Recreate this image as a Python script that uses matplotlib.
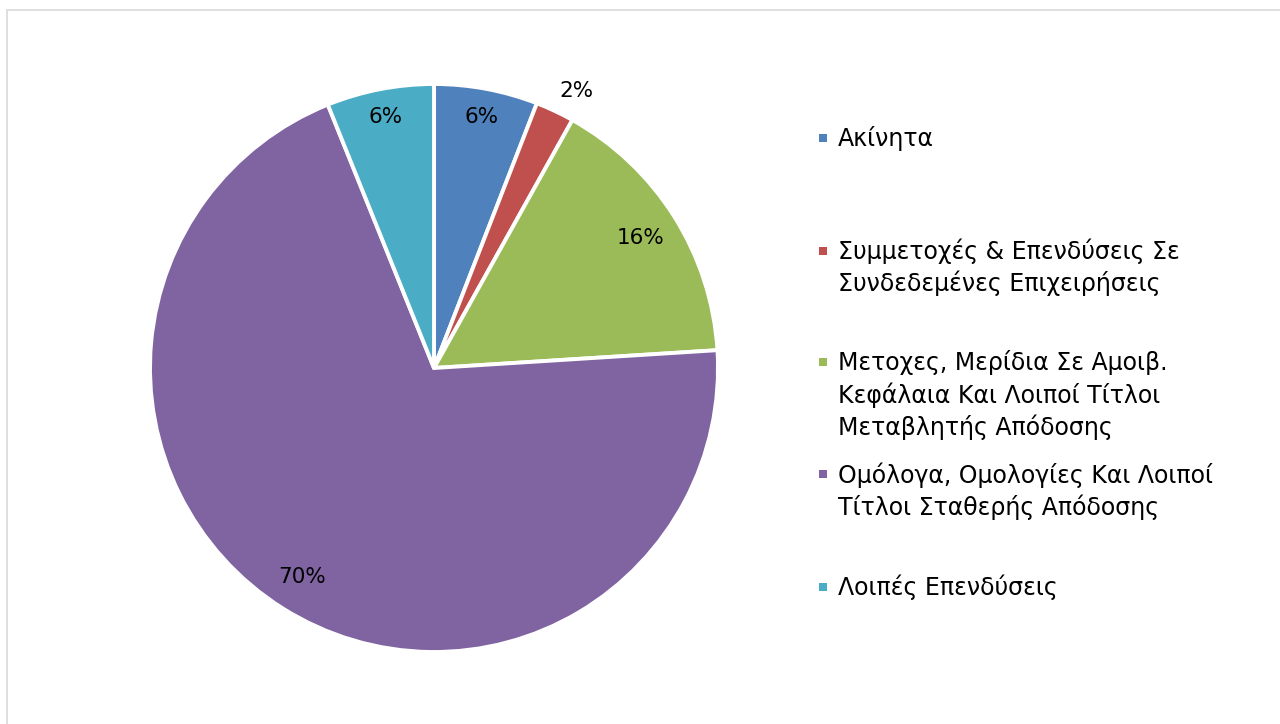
import matplotlib
matplotlib.use("Agg")
import matplotlib.pyplot as plt
from matplotlib.patches import Rectangle
import numpy as np

categories = [
    "Ακίνητα",
    "Συμμετοχές & Επενδύσεις Σε\nΣυνδεδεμένες Επιχειρήσεις",
    "Μετοχες, Μερίδια Σε Αμοιβ.\nΚεφάλαια Και Λοιποί Τίτλοι\nΜεταβλητής Απόδοσης",
    "Ομόλογα, Ομολογίες Και Λοιποί\nΤίτλοι Σταθερής Απόδοσης",
    "Λοιπές Επενδύσεις",
]
values = [5.9, 2.2, 15.9, 69.9, 6.1]
colors = ["#4F81BD", "#C0504D", "#9BBB59", "#8064A2", "#4BACC6"]

W, H = 1280, 724
fig = plt.figure(figsize=(W / 100, H / 100), dpi=100)
fig.patch.set_facecolor("white")

# outer chart border
fig.add_artist(Rectangle((6.5 / W, -0.05), 1.1, (H - 9.5) / H + 0.05,
                         transform=fig.transFigure, fill=False,
                         edgecolor="#D9D9D9", linewidth=1.2))

cx, cy, R = 434, 368, 284
ax = fig.add_axes([(cx - R) / W, (H - cy - R) / H, 2 * R / W, 2 * R / H])
wedges, texts, autotexts = ax.pie(
    values, colors=colors, startangle=90, counterclock=False,
    autopct="%.0f%%", pctdistance=0.88,
    wedgeprops=dict(edgecolor="white", linewidth=2.8),
    textprops=dict(fontsize=15.5, color="black", family="DejaVu Sans"),
)
ax.set_xlim(-1, 1)
ax.set_ylim(-1, 1)
ax.set_aspect("equal")
ax.axis("off")

# per-slice label distances (best-fit look)
label_dist = [0.90, None, 0.86, 0.87, 0.90]
for w, t, d in zip(wedges, autotexts, label_dist):
    ang = np.deg2rad((w.theta1 + w.theta2) / 2)
    if d is None:
        t.set_position((1.04 * np.cos(ang), 1.04 * np.sin(ang)))
        t.set_ha("left")
        t.set_va("bottom")
    else:
        t.set_position((d * np.cos(ang), d * np.sin(ang)))

# legend (manual placement): first-line centre for marker, last-line baseline for text
first_line_centres = [138, 251, 362, 474, 587]
last_baselines = [146, 291, 435, 515, 595]
text_x = 838
for lab, col, yc, yb in zip(categories, colors, first_line_centres, last_baselines):
    fig.text(text_x / W, (H - yb) / H, lab, fontsize=17, family="DejaVu Sans",
             va="baseline", ha="left", linespacing=1.33)
    fig.add_artist(Rectangle((819 / W, (H - yc - 4) / H), 8 / W, 8 / H,
                             transform=fig.transFigure, facecolor=col,
                             edgecolor="none"))

fig.savefig("out.png", dpi=100)
